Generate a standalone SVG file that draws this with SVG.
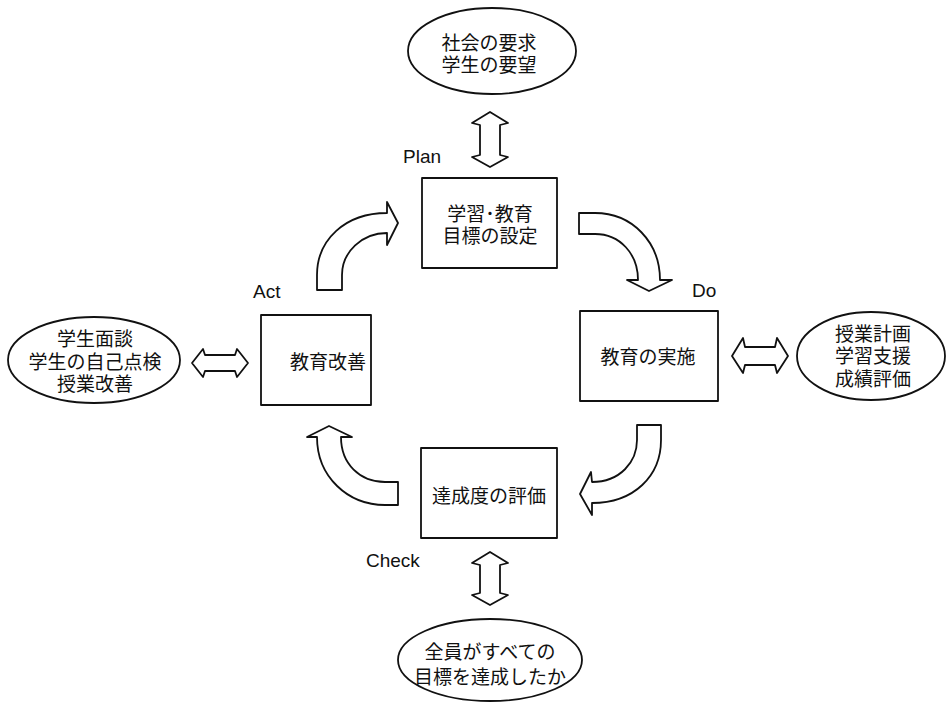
<svg xmlns="http://www.w3.org/2000/svg" width="949" height="707" viewBox="0 0 949 707">
<style>
.shape{fill:#fff;stroke:#111;stroke-width:1.8;stroke-linejoin:round}
.jp{font-family:"Noto Sans CJK JP","Noto Sans CJK SC",sans-serif;font-size:19px;fill:#111;text-anchor:middle;dominant-baseline:central}
.en{font-family:"Liberation Sans",Arial,sans-serif;font-size:19px;fill:#111}
</style>
<rect width="949" height="707" fill="#fff"/>
<g id="connectors">
<path class="shape" d="M490,112 L508,123 L500,125 L500,155 L508,157 L490,167 L472,157 L480,155 L480,125 L472,123 Z"/>
<path class="shape" d="M490,552 L508,563 L500,565 L500,593 L508,595 L490,605 L472,595 L480,593 L480,565 L472,563 Z"/>
<path class="shape" d="M192,363 L203,349 L205,355 L235,355 L237,349 L248,363 L237,377 L235,371 L205,371 L203,377 Z"/>
<path class="shape" d="M732,356 L743,338 L745,347 L775,347 L777,338 L788,356 L777,373 L775,365 L745,365 L743,373 Z"/>
<path class="shape" d="M317,290 L317,275 C317,240 345,213 387,213 L387,202 L398,223 L387,245 L387,233 C362,233 342,252 342,275 L342,290 Z"/>
<path class="shape" d="M579,213 L595,213 C632,213 660,242 660,280 L672,280 L649,291 L627,280 L638,280 C638,254 620,234 595,234 L579,234 Z"/>
<path class="shape" d="M661,425 L661,440 C661,476 634,503 592,503 L592,515 L580,494 L591,472 L592,482 C620,482 637,462 637,440 L637,425 Z"/>
<path class="shape" d="M398,482 L385,482 C360,482 341,464 341,437 L352,437 L329,426 L307,437 L317,437 C317,477 348,505 385,505 L398,505 Z"/>
</g>
<g id="needs">
<ellipse class="shape" cx="492" cy="51" rx="84" ry="43"/>
<text class="jp" x="489" y="41">社会の要求</text>
<text class="jp" x="489" y="63">学生の要望</text>
</g>
<g id="plan">
<rect class="shape" x="422" y="178" width="135" height="90"/>
<text class="jp" x="490" y="212">学習･教育</text>
<text class="jp" x="490" y="234">目標の設定</text>
<text class="en" x="403" y="163">Plan</text>
</g>
<g id="act">
<rect class="shape" x="261" y="315" width="110" height="90"/>
<text class="jp" x="328" y="360">教育改善</text>
<text class="en" x="253" y="298">Act</text>
</g>
<g id="do">
<rect class="shape" x="580" y="311" width="138" height="90"/>
<text class="jp" x="648" y="355">教育の実施</text>
<text class="en" x="692" y="297">Do</text>
</g>
<g id="check">
<rect class="shape" x="421" y="448" width="136" height="90"/>
<text class="jp" x="489" y="494">達成度の評価</text>
<text class="en" x="366" y="567">Check</text>
</g>
<g id="actNotes">
<ellipse class="shape" cx="94" cy="360" rx="86" ry="43"/>
<text class="jp" x="95" y="337">学生面談</text>
<text class="jp" x="95" y="360">学生の自己点検</text>
<text class="jp" x="95" y="382">授業改善</text>
</g>
<g id="doNotes">
<ellipse class="shape" cx="871" cy="356" rx="74" ry="44"/>
<text class="jp" x="873" y="332">授業計画</text>
<text class="jp" x="873" y="354">学習支援</text>
<text class="jp" x="873" y="377">成績評価</text>
</g>
<g id="checkGoal">
<ellipse class="shape" cx="490" cy="660" rx="92" ry="41"/>
<text class="jp" x="490" y="650">全員がすべての</text>
<text class="jp" x="490" y="675">目標を達成したか</text>
</g>
</svg>
